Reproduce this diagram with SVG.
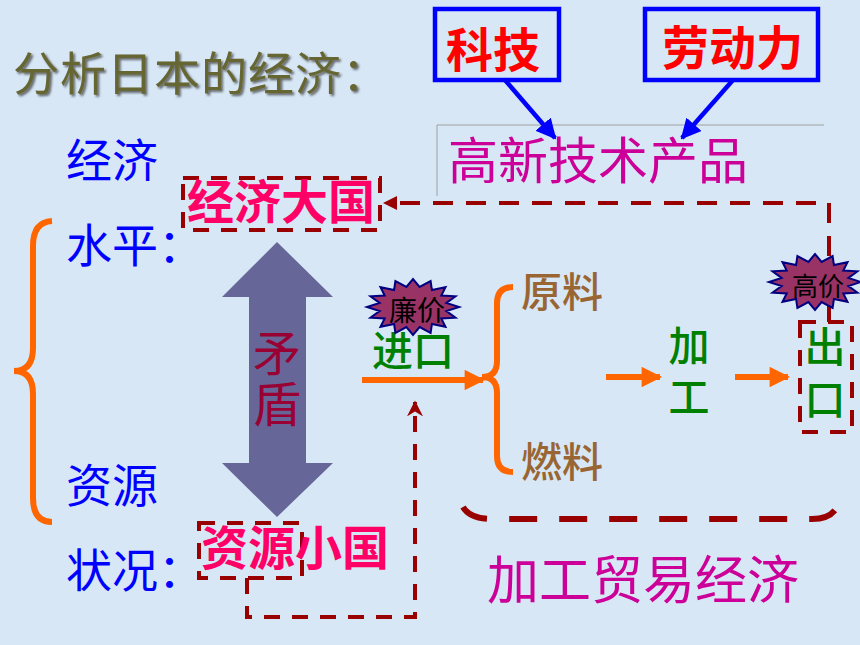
<svg xmlns="http://www.w3.org/2000/svg" width="860" height="645" viewBox="0 0 860 645">
<defs>
<style>
text{font-family:"Noto Sans CJK SC","Noto Sans CJK JP",sans-serif}
.t46{font-size:46px}
.blue{fill:#0000FF}
.bigpink{fill:#FF0066;font-weight:bold;font-size:47px}
.red{fill:#FF0000;font-weight:bold;font-size:47px}
.green{fill:#008000;font-size:41px;font-weight:500}
.brown{fill:#996633;font-size:41px;font-weight:500}
.mag{fill:#CC0099}
.vert{writing-mode:vertical-rl}
.dash{fill:none;stroke:#990000;stroke-width:4;stroke-dasharray:16 12}
.orange{fill:none;stroke:#FF6600;stroke-width:6}
.blueline{stroke:#0000FF;stroke-width:4.5;fill:none}
.star{fill:#993366;stroke:#000080;stroke-width:2}
</style>
<filter id="shadow" x="-5%" y="-20%" width="110%" height="150%">
<feDropShadow dx="2" dy="2" stdDeviation="0.8" flood-color="#333333" flood-opacity="0.7"/>
</filter>
<polygon id="star" points="46,0 33.4,4 42.5,10.7 28.3,11.4 32.5,19.8 18.9,17 17.6,25.9 6.6,20.1 0,28 -6.6,20.1 -17.6,25.9 -18.9,17 -32.5,19.8 -28.3,11.4 -42.5,10.7 -33.4,4 -46,0 -33.4,-4 -42.5,-10.7 -28.3,-11.4 -32.5,-19.8 -18.9,-17 -17.6,-25.9 -6.6,-20.1 0,-28 6.6,-20.1 17.6,-25.9 18.9,-17 32.5,-19.8 28.3,-11.4 42.5,-10.7 33.4,-4"/>
<marker id="blueHead" viewBox="0 0 10 10" refX="9" refY="5" markerWidth="4.5" markerHeight="4.5" orient="auto" markerUnits="strokeWidth">
<path d="M0,0 L10,5 L0,10 Z" fill="#0000FF"/>
</marker>
<marker id="orangeHead" viewBox="0 0 10 10" refX="9" refY="5" markerWidth="3.6" markerHeight="3.4" orient="auto" markerUnits="strokeWidth">
<path d="M0,0 L10,5 L0,10 Z" fill="#FF6600"/>
</marker>
<marker id="redHead" viewBox="0 0 10 10" refX="9" refY="5" markerWidth="4" markerHeight="4" orient="auto" markerUnits="strokeWidth">
<path d="M0,0 L10,5 L0,10 L3,5 Z" fill="#990000"/>
</marker>
</defs>
<rect width="860" height="645" fill="#D7E7F6"/>

<g id="title">
<text x="13" y="90" class="t46" fill="#666633" filter="url(#shadow)" letter-spacing="1">分析日本的经济：</text>
</g>

<g id="labels-left">
<text x="66" y="177" class="t46 blue">经济</text>
<text x="66" y="262" class="t46 blue">水平：</text>
<text x="66" y="502" class="t46 blue">资源</text>
<text x="66" y="587" class="t46 blue">状况：</text>
</g>

<g id="brace-left">
<path class="orange" d="M52,221 Q33,222 33,246 V348 Q33,371 14,371 Q33,371 33,394 V498 Q33,522 52,522"/>
</g>

<g id="node-jingjidaguo">
<rect class="dash" x="183" y="178" width="197" height="52"/>
<text x="187" y="219" class="bigpink">经济大国</text>
</g>

<g id="node-ziyuanxiaoguo">
<rect class="dash" x="199" y="523" width="103" height="55"/>
<text x="201" y="565" class="bigpink">资源小国</text>
</g>

<g id="node-maodun">
<polygon fill="#666699" points="277,242 333,297 306,297 306,463 333,463 277,517 222,463 249,463 249,297 222,297"/>
<text x="277" y="329" font-size="48" fill="#990033" class="vert" letter-spacing="3">矛盾</text>
</g>

<g id="node-keji">
<rect class="blueline" x="435" y="9" width="124" height="71"/>
<text x="446" y="67" class="red">科技</text>
</g>

<g id="node-laodongli">
<rect class="blueline" x="645" y="9" width="173" height="71"/>
<text x="662" y="65" class="red" font-size="46">劳动力</text>
</g>

<g id="node-gaoxin">
<path d="M437,196 V125 H824" fill="none" stroke="#A0A0A0" stroke-width="1"/>
<text x="448" y="179" font-size="50" class="mag">高新技术产品</text>
</g>

<g id="node-jinkou">
<text x="372" y="366" class="green">进口</text>
<use href="#star" x="413" y="307" class="star"/>
<text x="389" y="321" font-size="28" fill="#000000">廉价</text>
</g>

<g id="node-brace-right">
<path class="orange" d="M513,287 Q497,287 497,303 V361 Q497,377 482,377 Q497,377 497,393 V456 Q497,472 513,472"/>
</g>

<g id="node-yuanliao">
<text x="521" y="307" class="brown">原料</text>
</g>
<g id="node-ranliao">
<text x="521" y="477" class="brown">燃料</text>
</g>

<g id="node-jiagong">
<text x="689" y="325" class="green vert" letter-spacing="10">加工</text>
</g>

<g id="node-chukou">
<rect class="dash" x="800" y="322" width="52" height="110"/>
<text x="825" y="326" class="green vert" letter-spacing="12">出口</text>
</g>

<g id="connectors">
<line class="blueline" x1="505" y1="80" x2="555" y2="138" marker-end="url(#blueHead)"/>
<line class="blueline" x1="733" y1="80" x2="682" y2="138" marker-end="url(#blueHead)"/>
<path class="dash" d="M829,322 V203 H395" style="stroke-dasharray:20 13"/>
<path d="M383,203 L397,196 L397,210 Z" fill="#990000"/>
<path class="dash" d="M247,578 V617 H415 V402" marker-end="url(#redHead)"/>
<line class="orange" x1="362" y1="380" x2="483" y2="380" marker-end="url(#orangeHead)"/>
<line class="orange" x1="606" y1="377" x2="660" y2="377" marker-end="url(#orangeHead)"/>
<line class="orange" x1="735" y1="377" x2="788" y2="377" marker-end="url(#orangeHead)"/>
<path d="M463,507 Q470,519 492,519 H812 Q832,519 838,505" fill="none" stroke="#990000" stroke-width="6" stroke-dasharray="28 22"/>
</g>

<g id="node-gaojia">
<use href="#star" x="815" y="282" class="star"/>
<text x="792" y="296" font-size="26" fill="#000000">高价</text>
</g>

<g id="label-jiagongmaoyi">
<text x="487" y="599" font-size="52" class="mag">加工贸易经济</text>
</g>
</svg>
